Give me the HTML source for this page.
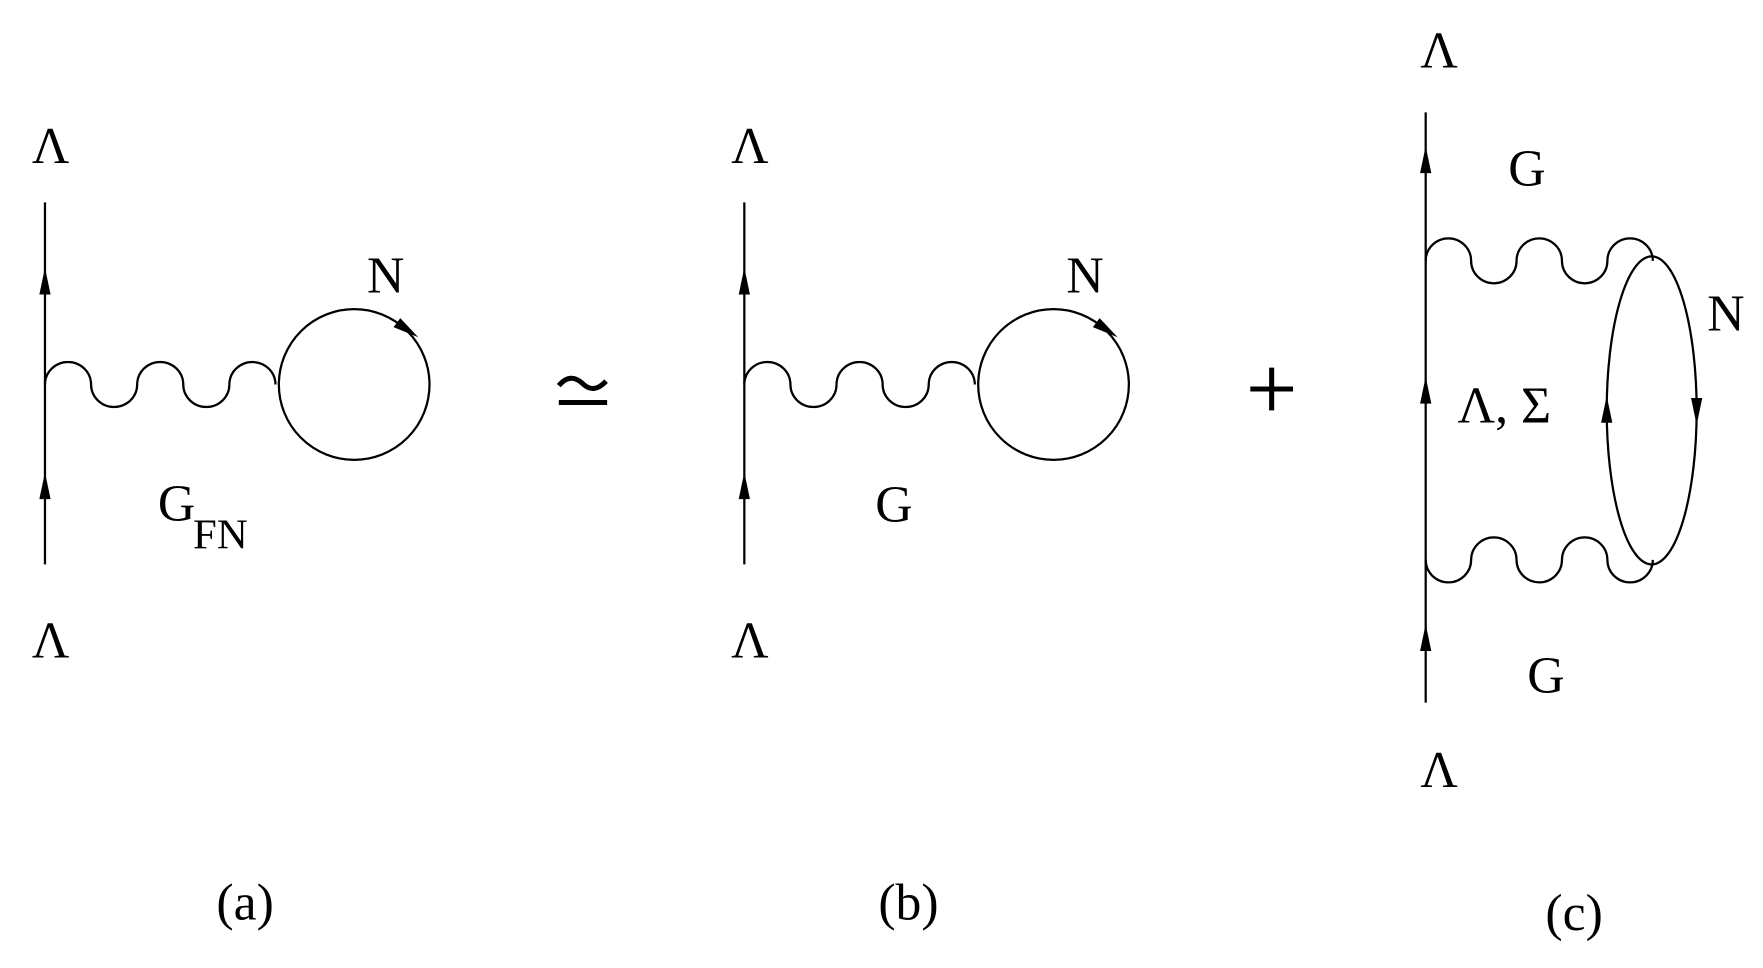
<!DOCTYPE html>
<html><head><style>html,body{margin:0;padding:0;background:#fff}svg{display:block}</style></head>
<body>
<svg width="1763" height="968" viewBox="0 0 1568 861" preserveAspectRatio="none" xmlns="http://www.w3.org/2000/svg" font-family="Liberation Serif, serif" font-size="46">
<g fill="none" stroke="#000" stroke-width="2">
<!-- (a) -->
<line x1="40" y1="180" x2="40" y2="502"/>
<path d="M40,342 a20.5,20 0 0 1 41,0 a20.5,20 0 0 0 41,0 a20.5,20 0 0 1 41,0 a20.5,20 0 0 0 41,0 a20.5,20 0 0 1 41,0"/>
<circle cx="315" cy="342" r="67"/>
<!-- (b) -->
<line x1="662" y1="180" x2="662" y2="502"/>
<path d="M662,342 a20.5,20 0 0 1 41,0 a20.5,20 0 0 0 41,0 a20.5,20 0 0 1 41,0 a20.5,20 0 0 0 41,0 a20.5,20 0 0 1 41,0"/>
<circle cx="937" cy="342" r="67"/>
<!-- (c) -->
<line x1="1268" y1="100" x2="1268" y2="625"/>
<path d="M1268,232 a20.2,20 0 0 1 40.4,0 a20.2,20 0 0 0 40.4,0 a20.2,20 0 0 1 40.4,0 a20.2,20 0 0 0 40.4,0 a20.2,20 0 0 1 40.4,0"/>
<path d="M1268,498 a20.2,20 0 0 0 40.4,0 a20.2,20 0 0 1 40.4,0 a20.2,20 0 0 0 40.4,0 a20.2,20 0 0 1 40.4,0 a20.2,20 0 0 0 40.4,0"/>
<ellipse cx="1469" cy="365" rx="40" ry="137"/>
</g>
<g fill="none" stroke="#000" stroke-width="4.5">
<path d="M497,343 q10,-12 21,-2 q10,10 21,-2"/>
<line x1="497" y1="358" x2="540" y2="358"/>
<line x1="1112" y1="346" x2="1150" y2="346"/>
<line x1="1131" y1="327" x2="1131" y2="365"/>
</g>
<g fill="#000">
<polygon points="40,238 35,262 45,262"/>
<polygon points="40,420 35,444 45,444"/>
<polygon points="662,238 657,262 667,262"/>
<polygon points="662,420 657,444 667,444"/>
<polygon points="1268,130 1263,154 1273,154"/>
<polygon points="1268,335 1263,359 1273,359"/>
<polygon points="1268,555 1263,579 1273,579"/>
<polygon points="1429,352 1424,376 1434,376"/>
<polygon points="1509,378 1504,354 1514,354"/>
<polygon points="372,300 350,291 356,283"/>
<polygon points="994,300 972,291 978,283"/>
</g>
<g text-anchor="middle">
<text x="45" y="145">Λ</text>
<text x="45" y="585">Λ</text>
<text x="343" y="260">N</text>
<text x="157" y="463">G</text>
<text x="196" y="488" font-size="38">FN</text>
<text x="218" y="818">(a)</text>
<text x="667" y="145">Λ</text>
<text x="667" y="585">Λ</text>
<text x="965" y="260">N</text>
<text x="795" y="464">G</text>
<text x="808" y="818">(b)</text>
<text x="1280" y="60">Λ</text>
<text x="1358" y="165">G</text>
<text x="1535" y="294">N</text>
<text x="1338" y="376">Λ, Σ</text>
<text x="1375" y="616">G</text>
<text x="1280" y="700">Λ</text>
<text x="1400" y="827">(c)</text>
</g>
</svg>
</body></html>
